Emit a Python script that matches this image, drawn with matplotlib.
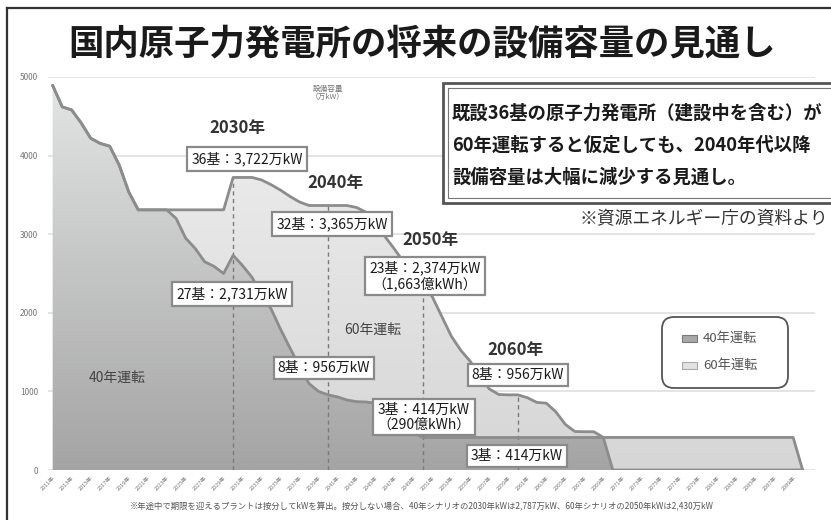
import numpy as np
import matplotlib.pyplot as plt
from matplotlib.patches import Rectangle, FancyBboxPatch
from matplotlib.lines import Line2D
from matplotlib.colors import LinearSegmentedColormap
from matplotlib.transforms import Affine2D

plt.rcParams['font.family'] = ['Noto Sans CJK JP', 'DejaVu Sans']

# ---- data (万kW) ----
years = np.arange(2011, 2091)
cap_60 = [4890, 4620, 4580, 4415, 4220, 4155, 4120, 3880, 3540, 3310,
          3310, 3310, 3310, 3310, 3310, 3310, 3310, 3310, 3310, 3722,
          3722, 3722, 3690, 3630, 3560, 3480, 3410, 3365, 3365, 3365,
          3365, 3365, 3340, 3280, 3120, 2970, 2810, 2640, 2480, 2374,
          2200, 1950, 1700, 1520, 1380, 1200, 1030, 960, 956, 956,
          920, 860, 850, 740, 580, 490, 487, 487, 414, 414,
          414, 414, 414, 414, 414, 414, 414, 414, 414, 414,
          414, 414, 414, 414, 414, 414, 414, 414, 414, 0]
cap_40 = [4890, 4620, 4580, 4415, 4220, 4155, 4120, 3880, 3540, 3310,
          3310, 3310, 3310, 3200, 2950, 2820, 2650, 2590, 2500, 2731,
          2600, 2450, 2230, 2050, 1790, 1550, 1320, 1100, 1000, 956,
          930, 890, 870, 865, 850, 830, 760, 600, 470, 414,
          414, 414, 414, 414, 414, 414, 414, 414, 414, 414,
          414, 414, 414, 414, 414, 414, 414, 414, 414, 0,
          0, 0, 0, 0, 0, 0, 0, 0, 0, 0,
          0, 0, 0, 0, 0, 0, 0, 0, 0, 0]
marker_years = [2030, 2040, 2050, 2060]
tick_years = np.arange(2011, 2090, 2)
tick_labels = [f'{y}年' for y in tick_years]

W, H = 831, 520
fig = plt.figure(figsize=(W / 100, H / 100), dpi=100)
# pixel coords, y downward
pix = Affine2D().scale(1 / W, -1 / H).translate(0, 1) + fig.transFigure

ax = fig.add_axes([48 / W, 1 - 470 / H, (815 - 48) / W, (470 - 77) / H])
XL = (2010.5, 2091.3)


def grad_fill(y, top, bottom, z):
    poly = ax.fill_between(years, 0, y, color='none', lw=0, zorder=z)
    grad = np.linspace(0, 1, 256).reshape(-1, 1)
    cmap = LinearSegmentedColormap.from_list('g', [bottom, top])
    im = ax.imshow(grad, cmap=cmap, aspect='auto', origin='lower',
                   extent=[XL[0], XL[1], 0, 5000], zorder=z)
    im.set_clip_path(poly.get_paths()[0], ax.transData)


grad_fill(cap_60, '#f0f0f0', '#d6d6d6', 1)
grad_fill(cap_40, '#e4e5e5', '#a4a4a4', 2)

v60 = dict(zip(years, cap_60))
ax.vlines(marker_years, 0, [v60[y] for y in marker_years], colors='#7a7a7a',
          linestyles=(0, (3, 2.5)), lw=1, zorder=3)
ax.plot(years, cap_60, color='#8c8c8c', lw=2, zorder=4)
ax.plot(years, cap_40, color='#8c8c8c', lw=2, zorder=4)

ax.set_xlim(*XL)
ax.set_ylim(0, 5000)
ax.set_yticks(range(0, 5001, 1000))
ax.tick_params(axis='y', length=0, labelsize=6, labelcolor='#777777', pad=7)
ax.set_xticks(tick_years)
ax.set_xticklabels(tick_labels, rotation=45, ha='right', rotation_mode='anchor',
                   fontsize=4, color='#777777')
ax.tick_params(axis='x', length=0, pad=4)
ax.grid(axis='y', color='#e2e2e2', lw=1.3, zorder=0)
ax.set_axisbelow(True)
for s in ax.spines.values():
    s.set_visible(False)

# ---- frame and title ----
fig.add_artist(Line2D([7, 7], [8, 530], color='#333333', lw=1.6, transform=pix))
fig.add_artist(Line2D([7, 840], [8, 8], color='#333333', lw=1.6, transform=pix))
fig.text(422, 44, '国内原子力発電所の将来の設備容量の見通し', transform=pix,
         ha='center', va='center', fontsize=25.5, fontweight='bold', color='#1a1a1a')

fig.text(328, 93, '設備容量\n（万kW）', transform=pix, ha='center', va='center',
         fontsize=5.5, color='#777777', linespacing=1.1)

# ---- callout box ----
fig.add_artist(Rectangle((443, 83), 400, 120, transform=pix, fc='white',
                         ec='#555555', lw=2, zorder=5))
fig.add_artist(Rectangle((448, 88), 400, 110, transform=pix, fill=False,
                         ec='#777777', lw=0.8, zorder=5))
for yy, line in zip([113, 145, 177], ['既設36基の原子力発電所（建設中を含む）が',
                                      '60年運転すると仮定しても、2040年代以降',
                                      '設備容量は大幅に減少する見通し。']):
    fig.text(452, yy, line, transform=pix, ha='left', va='center', fontsize=13.2,
             fontweight='bold', color='#1a1a1a', zorder=6)
fig.text(828, 219, '※資源エネルギー庁の資料より', transform=pix, ha='right',
         va='center', fontsize=12.8, color='#333333', zorder=6)

# ---- year labels and value boxes ----
for x, y, s in [(237, 128, '2030年'), (335, 183, '2040年'),
                (430, 240, '2050年'), (515, 350, '2060年')]:
    fig.text(x, y, s, transform=pix, ha='center', va='center', fontsize=12,
             fontweight='bold', color='#333333', zorder=6)

box = dict(boxstyle='square,pad=0.3', fc='white', ec='#8a8a8a', lw=1.6)
for x, y, s in [(247, 159, '36基：3,722万kW'), (332, 224, '32基：3,365万kW'),
                (425, 276, '23基：2,374万kW\n（1,663億kWh）'),
                (232, 294, '27基：2,731万kW'), (324, 368, '8基：956万kW'),
                (424, 417, '3基：414万kW\n（290億kWh）'),
                (518, 375, '8基：956万kW'), (517, 456, '3基：414万kW')]:
    fig.text(x, y, s, transform=pix, ha='center', va='center', fontsize=10,
             color='#1a1a1a', bbox=box, linespacing=1.05, zorder=6)

fig.text(373, 330, '60年運転', transform=pix, ha='center', va='center',
         fontsize=10, color='#444444', zorder=6)
fig.text(117, 378, '40年運転', transform=pix, ha='center', va='center',
         fontsize=10, color='#444444', zorder=6)

# ---- legend ----
fig.add_artist(FancyBboxPatch((662, 317), 126, 71, transform=pix,
                              boxstyle='round,pad=0,rounding_size=12',
                              fc='white', ec='#555555', lw=1.3, zorder=5))
for yy, fc, ec, lab in [(338, '#a8a8a8', '#7a7a7a', '40年運転'),
                        (365, '#e2e2e2', '#aaaaaa', '60年運転')]:
    fig.add_artist(Rectangle((682, yy - 3.5), 15, 7, transform=pix, fc=fc,
                             ec=ec, lw=0.8, zorder=6))
    fig.text(703, yy, lab, transform=pix, ha='left', va='center', fontsize=9.5,
             color='#555555', zorder=6)

fig.text(422, 507, '※年途中で期限を迎えるプラントは按分してkWを算出。按分しない場合、'
         '40年シナリオの2030年kWは2,787万kW、60年シナリオの2050年kWは2,430万kW',
         transform=pix, ha='center', va='center', fontsize=6, color='#555555')

fig.savefig('out.png', dpi=100)
